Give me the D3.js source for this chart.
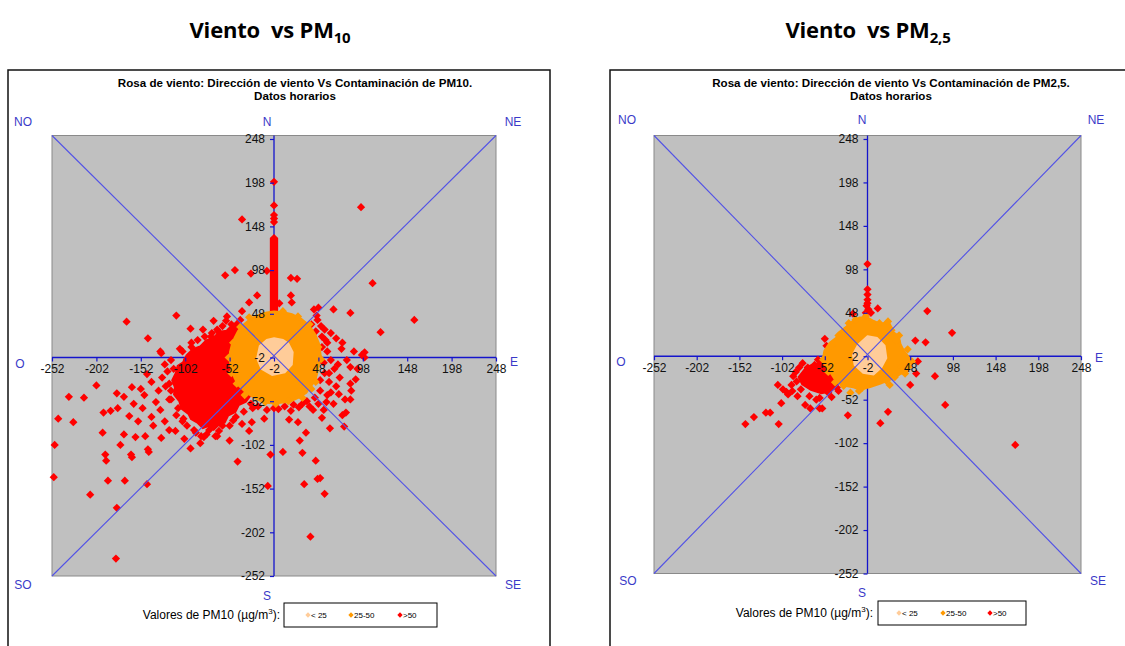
<!DOCTYPE html>
<html>
<head>
<meta charset="utf-8">
<script src="https://cdn.jsdelivr.net/npm/d3@7"></script>
<style>
  body { margin: 0; background: #fff; }
  svg text { font-family: Arial, "Liberation Sans", sans-serif; }
</style>
</head>
<body>
<div id="chart"></div>
<script>
(function(d3) {
  'use strict';

  // ---- data (data units of the wind rose) ----
  var tickValues = [-252, -202, -152, -102, -52, -2, 48, 98, 148, 198, 248];
  var compassLabels = ['NO', 'N', 'NE', 'O', 'E', 'SO', 'S', 'SE'];
  var legendLabels = ['< 25', '25-50', '>50'];
  var legendColors = ['#ffcc99', '#ff9900', '#ff0000'];
  var pageTitles = [['Viento  vs PM', '10'], ['Viento  vs PM', '2,5']];
  var chartTitles = ['Rosa de viento: Dirección de viento Vs Contaminación de PM10.',
                     'Rosa de viento: Dirección de viento Vs Contaminación de PM2,5.'];

  // PM10: dense areas (outlines) and single hours
  var pm10Light = [[-2,20],[8,18],[14,14],[19,4],[18,-10],[10,-19],[-4,-22],[-16,-15],[-21,-3],[-18,11],[-10,18]];
  var pm10Orange = [[-2,50],[10,49],[18,47],[28,42],[33,38],[40,30],[44,24],[48,14],[49,8],[50,0],[48,-10],
                    [46,-20],[44,-28],[38,-36],[34,-42],[26,-47],[18,-51],[8,-53],[-2,-54],[-12,-53],
                    [-20,-50],[-28,-45],[-35,-40],[-42,-33],[-46,-25],[-50,-14],[-51,-6],[-51,4],[-49,12],
                    [-46,20],[-42,28],[-36,35],[-30,40],[-24,44],[-17,47],[-10,49]];
  var pm10OrangePts = [[-50,-20],[-48,15],[45,-30],[48,10],[-30,44],[25,45],[-35,-45],[30,-48],[0,-55],
                       [-12,-53],[14,-52],[-53,-2],[51,-4],[38,36],[-40,33],[-44,-32],[40,-38],[8,51]];
  var pm10Blob = [[-38,30],[-48,33],[-55,28],[-63,27],[-70,20],[-78,17],[-85,10],[-93,7],[-100,0],
                  [-104,-8],[-110,-12],[-112,-20],[-116,-28],[-113,-36],[-114,-44],[-108,-52],[-106,-60],
                  [-98,-66],[-95,-72],[-88,-76],[-82,-82],[-76,-80],[-70,-84],[-64,-78],[-58,-76],
                  [-54,-68],[-46,-64],[-42,-56],[-34,-52],[-28,-44],[-20,-40],[-20,20]];
  var pm10Spike = [[-5,48],[-5,134],[-2,137],[1,134],[1,48]];
  var pm10Red = [
    [-2,199],[-2,172],[-2,161],[-2,157],[-2,153],
    [-38,156],[96,170],[-57,92],[-46,98],[-28,94],[-10,97],[17,89],[24,88],[109,83],[-21,69],[-30,61],
    [-38,51],[17,69],[18,61],[4,60],[65,53],[84,49],[43,53],[48,55],[156,41],[118,27],[-112,46],[-96,31],
    [-168,39],[-144,20],[-130,5],[-73,22],[-40,41],[74,8],[100,4],[62,26],[58,15],[52,22],[47,41],[51,34],
    [40,36],[-60,34],[-51,30],[-47,26],[-62,15],[-70,7],[-77,3],
    [-129,3],[-202,-34],[-233,-47],[-216,-48],[-245,-72],[-228,-76],[-249,-102],[-250,-139],[-194,-65],
    [-186,-63],[-179,-43],[-171,-47],[-178,-60],[-195,-88],[-192,-113],[-191,-120],[-189,-143],[-175,-102],
    [-170,-143],[-209,-159],[-179,-174],[-180,-232],[-145,-147],[-144,-107],[-143,-110],[-163,-113],
    [-162,-116],[-171,-90],[-162,-36],[-145,-21],[-152,-38],[-165,-69],[-158,-93],[-147,-92],[-135,-53],
    [-129,-94],[-120,-32],[-113,-86],[-103,-95],[-96,-106],[-81,-93],[-68,-92],[-52,-97],[-43,-121],
    [-30,-86],[-27,-76],[-13,-72],[-9,-149],[-6,-113],[8,-110],[15,-73],[25,-76],[27,-97],[30,-111],
    [34,-88],[32,-147],[45,-120],[47,-141],[50,-140],[55,-158],[39,-207],[61,-83],[52,-71],[57,-53],
    [71,-44],[77,-81],[75,-68],[79,-65],[84,-50],[84,-32],[90,-27],[84,-13],[97,1],[100,-2],
    [-2,-60],[3,-61],[17,-63],[26,-59],
    [-150,-60],[-140,-70],[-138,-80],[-130,-62],[-125,-75],[-120,-85],[-118,-50],[-155,-75],[-148,-45],
    [-132,-40],[-128,-25],[-140,-30],[-110,-60],[-105,-75],[-92,-85],[-85,-100],[-75,-85],[-60,-80],
    [-45,-70],[-38,-78],[-160,-55],[-125,-10],[-115,-15],
    [-88,18],[-95,10],[-105,5],[-82,30],[-70,40],[-55,45],[-65,28],
    [52,10],[58,5],[62,-5],[66,-15],[55,-20],[60,-30],[68,-35],[72,-25],[50,-40],[58,-45],[65,-55],
    [48,-55],[70,-10],[75,15],[68,20],[55,30],[45,28],[80,-5],[88,5],[92,-15],[85,-40],[78,-50],
    [44,-48],[38,-58],[30,-55],
    [-20,-58],[-10,-62],[10,-58],[-28,-55],[20,-56],[35,-52],
    [-118,-5],[-122,-18],[-124,-35],[-120,-50],[-112,-68],[-100,-80],[-90,-88],[-78,-90],[-64,-86],
    [-52,-80],[-108,8],[-95,15],[-80,22],[-66,30],[-50,36],
    [-56,40],[-44,36],[-72,26],[-100,-4],[-118,-40],[-104,-72],[-84,-92],[-66,-92],[-48,-74],
    [-36,-64],[-26,-60],[54,-8],[56,18],[60,-20],[50,-28],[62,-42],[54,-62],[42,-62],[46,46]
  ];

  // PM2,5
  var pm25Light = [[-2,21],[9,19],[18,10],[20,-4],[14,-15],[5,-23],[-7,-21],[-17,-12],[-19,0],[-13,11]];
  var pm25Orange = [[-2,42],[5,38],[14,34],[22,38],[26,30],[28,25],[34,21],[36,12],[40,4],[48,-6],
                    [44,-19],[36,-22],[28,-27],[20,-30],[13,-33],[1,-37],[-11,-40],[-19,-37],[-31,-35],
                    [-38,-31],[-46,-19],[-54,-8],[-52,4],[-46,13],[-38,19],[-34,26],[-27,31],[-19,38],
                    [-11,42]];
  var pm25OrangePts = [[22,38],[-25,30],[-30,-36],[-12,-42],[42,-22],[50,-8],[45,6],[35,22],[-48,-20],
                       [-54,-6],[-4,44],[20,-30],[-22,-44],[-40,-32],[30,-26],[38,-14],[24,-35],[-8,-38],
                       [26,28],[32,16],[-44,10],[-36,22],[-24,36],[12,36],[46,-14],[-16,40]];
  var pm25Blob = [[-74,-16],[-66,-12],[-56,-10],[-48,-16],[-40,-26],[-38,-36],[-46,-42],[-56,-44],
                  [-68,-40],[-78,-34],[-82,-26]];
  var pm25Red = [
    [-2,104],[-2,75],[-2,69],[-2,63],[-2,59],[-3,56],[-1,52],[-4,48],[2,48],[10,53],[-19,47],[68,50],
    [97,25],[54,16],[66,14],[57,-8],[55,-22],[77,-25],[48,-35],[89,-58],[22,-66],[13,-79],[-25,-70],
    [171,-104],[-52,18],[-50,10],[-145,-80],[-135,-72],[-121,-67],[-116,-67],[-106,-80],[-103,-56],
    [-107,-35],[-101,-40],[-95,-46],[-89,-25],[-82,-15],[-75,-23],[-75,-58],[-69,-62],[-58,-62],
    [-55,-62],[-58,-50],[-44,-49],[-38,-38],[-50,-35],[-85,-31],[-91,-35],[-97,-43],[-72,-15],
    [-66,-19],[-64,-12],[-56,-10],[-86,-20],[-80,-40],[-70,-48],[-62,-52],[-48,-44],[-36,-42],
    [-90,-42],[-78,-10],[-60,-6],[-46,-10],[-84,-48]
  ];

  var width = 1125;
  var height = 646;

  var svg = d3.select('#chart')
    .append('svg')
    .attr('width', width)
    .attr('height', height);

  var diamond = d3.symbol().type(d3.symbolSquare).size(34);

  // layout of each panel (pixels)
  var panels = [
    { frameX: 8, x0: 52, x1: 496, y0: 135.5, y1: 576, titleX: 295, headX: 270,
      comp: [[23,126],[267,126],[513,126],[20,368],[514,366],[23,589],[267,600],[513,589]],
      legLabelX: 280, legY: 603, legX: 284, legW: 153, legItems: [308, 351, 400],
      light: pm10Light, orange: pm10Orange, orangePts: pm10OrangePts, blobs: [pm10Blob, pm10Spike], red: pm10Red },
    { frameX: 610, x0: 654, x1: 1081, y0: 135.5, y1: 573.5, titleX: 891, headX: 868,
      comp: [[627,124],[862,124],[1096,124],[621,366],[1099,362],[628,585],[862,597],[1098,585]],
      legLabelX: 873, legY: 601, legX: 878, legW: 148, legItems: [899, 943, 990],
      light: pm25Light, orange: pm25Orange, orangePts: pm25OrangePts, blobs: [pm25Blob], red: pm25Red }
  ];

  panels.forEach(function(p, i) {
    var g = svg.append('g');

    var x = d3.scaleLinear().domain([-252, 248]).range([p.x0, p.x1]);
    var y = d3.scaleLinear().domain([-252, 252]).range([p.y1, p.y0]);

    // page heading
    var head = svg.append('text')
      .attr('x', p.headX)
      .attr('y', 38)
      .attr('text-anchor', 'middle')
      .style('white-space', 'pre')
      .style('font-family', '"Open Sans", sans-serif')
      .style('font-weight', 'bold')
      .style('font-size', '22px')
      .style('letter-spacing', '-0.2px')
      .text(pageTitles[i][0]);
    head.append('tspan')
      .attr('dy', 5)
      .style('font-size', '15px')
      .text(pageTitles[i][1]);

    // chart frame
    g.append('rect')
      .attr('x', p.frameX)
      .attr('y', 70)
      .attr('width', 542)
      .attr('height', 620)
      .attr('fill', '#fff')
      .attr('stroke', '#111')
      .attr('stroke-width', 1.5);

    g.append('text')
      .attr('x', p.titleX).attr('y', 87)
      .attr('text-anchor', 'middle')
      .style('font-weight', 'bold').style('font-size', '11.6px')
      .text(chartTitles[i]);
    g.append('text')
      .attr('x', p.titleX).attr('y', 100)
      .attr('text-anchor', 'middle')
      .style('font-weight', 'bold').style('font-size', '11.6px')
      .text('Datos horarios');

    // plot area
    g.append('rect')
      .attr('x', x(-252))
      .attr('y', y(252))
      .attr('width', x(248) - x(-252))
      .attr('height', y(-252) - y(252))
      .attr('fill', '#c0c0c0')
      .attr('stroke', '#8a8a8a')
      .attr('stroke-width', 1);

    // axis lines crossing at -2
    g.append('line')
      .attr('x1', x(-252)).attr('x2', x(248))
      .attr('y1', y(-2)).attr('y2', y(-2))
      .attr('stroke', '#1414cc').attr('stroke-width', 1.3);
    g.append('line')
      .attr('x1', x(-2)).attr('x2', x(-2))
      .attr('y1', y(252)).attr('y2', y(-252))
      .attr('stroke', '#1414cc').attr('stroke-width', 1.3);

    var area = d3.line()
      .x(function(d) { return x(d[0]); })
      .y(function(d) { return y(d[1]); })
      .curve(d3.curveLinearClosed);

    function points(data, color) {
      g.append('g').selectAll('path')
        .data(data)
        .enter()
        .append('path')
        .attr('d', diamond)
        .attr('fill', color)
        .attr('transform', function(d) {
          return 'translate(' + x(d[0]) + ',' + y(d[1]) + ') rotate(45)';
        });
    }

    // >50 first, then 25-50, then <25 on top
    p.blobs.forEach(function(b) {
      g.append('path')
        .attr('d', area(b))
        .attr('fill', legendColors[2])
        .attr('stroke', legendColors[2])
        .attr('stroke-width', 3);
    });
    points(p.red, legendColors[2]);

    g.append('path')
      .attr('d', area(p.orange))
      .attr('fill', legendColors[1])
      .attr('stroke', legendColors[1])
      .attr('stroke-width', 3);
    points(p.orangePts, legendColors[1]);

    g.append('path')
      .attr('d', area(p.light))
      .attr('fill', legendColors[0])
      .attr('stroke', legendColors[0])
      .attr('stroke-width', 2);

    // diagonals
    var diag = [[[-252, 252], [248, -252]], [[-252, -252], [248, 252]]];
    g.selectAll('.diag')
      .data(diag)
      .enter()
      .append('path')
      .attr('class', 'diag')
      .attr('d', function(d) { return 'M' + x(d[0][0]) + ',' + y(d[0][1]) + 'L' + x(d[1][0]) + ',' + y(d[1][1]); })
      .attr('fill', 'none')
      .attr('stroke', '#5252e6')
      .attr('stroke-width', 1.1);

    // ticks and labels
    var xAxis = g.append('g')
      .attr('transform', 'translate(0,' + y(-2) + ')')
      .call(d3.axisBottom(x).tickValues(tickValues).tickSize(4).tickPadding(3).tickFormat(d3.format('d')));
    var yAxis = g.append('g')
      .attr('transform', 'translate(' + x(-2) + ',0)')
      .call(d3.axisLeft(y).tickValues(tickValues).tickSize(4).tickPadding(5).tickFormat(d3.format('d')));
    [xAxis, yAxis].forEach(function(a) {
      a.select('.domain').remove();
      a.selectAll('line').attr('stroke', '#1414cc').attr('stroke-width', 1.2);
      a.selectAll('text')
        .attr('fill', '#111')
        .style('font-family', 'Arial, "Liberation Sans", sans-serif')
        .style('font-size', '12px')
        .text(function(d) { return String(d); });
    });

    // compass points
    g.selectAll('.compass')
      .data(compassLabels)
      .enter()
      .append('text')
      .attr('class', 'compass')
      .attr('x', function(d, k) { return p.comp[k][0]; })
      .attr('y', function(d, k) { return p.comp[k][1]; })
      .attr('text-anchor', 'middle')
      .attr('fill', '#3a3ac8')
      .style('font-size', '12px')
      .text(function(d) { return d; });

    // legend
    var lab = g.append('text')
      .attr('x', p.legLabelX)
      .attr('y', p.legY + 16)
      .attr('text-anchor', 'end')
      .style('font-size', '12px')
      .text('Valores de PM10 (µg/m');
    lab.append('tspan').attr('dy', -5).style('font-size', '8px').text('3');
    lab.append('tspan').attr('dy', 5).text('):');

    g.append('rect')
      .attr('x', p.legX)
      .attr('y', p.legY)
      .attr('width', p.legW)
      .attr('height', 24)
      .attr('fill', '#fff')
      .attr('stroke', '#000')
      .attr('stroke-width', 1);

    var item = g.selectAll('.legende')
      .data(legendLabels)
      .enter()
      .append('g')
      .attr('class', 'legende')
      .attr('transform', function(d, k) {
        return 'translate(' + p.legItems[k] + ',' + (p.legY + 12) + ')';
      });
    item.append('path')
      .attr('d', d3.symbol().type(d3.symbolSquare).size(14))
      .attr('transform', 'rotate(45)')
      .attr('fill', function(d, k) { return legendColors[k]; });
    item.append('text')
      .attr('x', 3)
      .attr('y', 3)
      .style('font-size', '8px')
      .text(function(d) { return d; });
  });

})(window.d3);
</script>
</body>
</html>
